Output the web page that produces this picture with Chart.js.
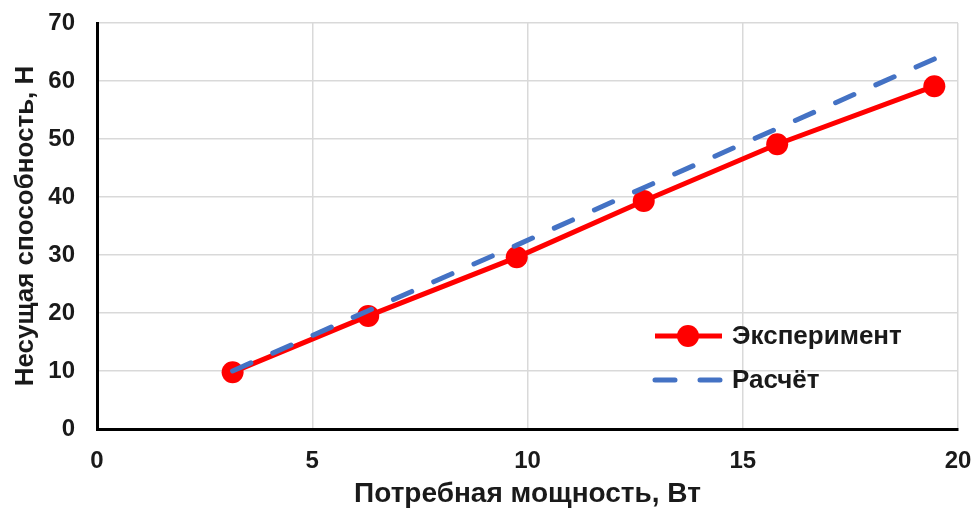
<!DOCTYPE html>
<html>
<head>
<meta charset="utf-8">
<script src="https://cdn.jsdelivr.net/npm/chart.js@4/dist/chart.umd.min.js"></script>
<style>
  html, body { margin: 0; padding: 0; background: #fff; }
  #wrap { width: 976px; height: 514px; }
</style>
</head>
<body>
<div id="wrap"><canvas id="chart" width="976" height="514"></canvas></div>
<script>
// Данные графика
const powerX = [3.15, 6.3, 9.75, 12.7, 15.8, 19.45];
const expY = [9.8, 19.5, 29.6, 39.3, 49.1, 59.1];
const calcY = [10, 20.4, 31.7, 41.6, 51.8, 63.8];
const xTicks = [0, 5, 10, 15, 20];
const yTicks = [0, 10, 20, 30, 40, 50, 60, 70];
const seriesNames = ["Эксперимент", "Расчёт"];
const axisTitles = { x: "Потребная мощность, Вт", y: "Несущая способность, Н" };

const FONT = "'Liberation Sans', Arial, sans-serif";
const TEXT = "#1a1a1a";

// Легенда рисуется вручную внутри области графика
const legendPlugin = {
  id: "innerLegend",
  afterDatasetsDraw(chart) {
    const { ctx, chartArea } = chart;
    const x0 = chartArea.right - 305;
    const rows = [chartArea.top + 313, chartArea.top + 357];
    ctx.save();
    chart.data.datasets.forEach((ds, i) => {
      const y = rows[i];
      ctx.strokeStyle = ds.borderColor;
      ctx.lineWidth = ds.borderWidth;
      ctx.lineCap = ds.borderCapStyle || "butt";
      ctx.setLineDash(ds.borderDash ? [20, 25] : []);
      ctx.beginPath();
      ctx.moveTo(x0 + 2, y);
      ctx.lineTo(x0 + 69, y);
      ctx.stroke();
      ctx.setLineDash([]);
      if (ds.pointRadius) {
        ctx.fillStyle = ds.pointBackgroundColor;
        ctx.beginPath();
        ctx.arc(x0 + 35, y, ds.pointRadius, 0, Math.PI * 2);
        ctx.fill();
      }
      ctx.fillStyle = TEXT;
      ctx.font = "bold 26px " + FONT;
      ctx.textBaseline = "middle";
      ctx.textAlign = "left";
      ctx.fillText(ds.label, x0 + 79, y + 1);
    });
    ctx.restore();
  },
};

// убираем автоматические отступы шкал под крайние подписи
const noScalePadding = (axis) => {
  axis.paddingTop = 0;
  axis.paddingBottom = 0;
  axis.paddingLeft = 0;
  axis.paddingRight = 0;
};

const ctx = document.getElementById("chart").getContext("2d");
new Chart(ctx, {
  type: "line",
  data: {
    datasets: [
      {
        label: seriesNames[0],
        data: powerX.map((x, i) => ({ x, y: expY[i] })),
        borderColor: "#ff0000",
        backgroundColor: "#ff0000",
        pointBackgroundColor: "#ff0000",
        pointBorderWidth: 0,
        pointRadius: 11,
        borderWidth: 5,
        tension: 0,
      },
      {
        label: seriesNames[1],
        data: powerX.map((x, i) => ({ x, y: calcY[i] })),
        borderColor: "#4472c4",
        backgroundColor: "#4472c4",
        borderWidth: 5,
        borderDash: [20, 24],
        borderCapStyle: "round",
        pointRadius: 0,
        tension: 0,
        order: -1,
      },
    ],
  },
  options: {
    responsive: false,
    animation: false,
    layout: { padding: { top: 23, right: 18, left: 0, bottom: 0 } },
    plugins: {
      legend: { display: false },
      tooltip: { enabled: false },
    },
    scales: {
      x: {
        type: "linear",
        min: 0,
        max: 20,
        afterBuildTicks: (axis) => { axis.ticks = xTicks.map((v) => ({ value: v })); },
        afterFit: (axis) => { axis.height = 85; noScalePadding(axis); },
        grid: { color: "#d9d9d9", lineWidth: 1.5, drawTicks: false },
        border: { display: true, color: "#000", width: 3 },
        ticks: { color: TEXT, padding: 18, font: { family: FONT, size: 24, weight: "bold" } },
        title: {
          display: true,
          text: axisTitles.x,
          color: TEXT,
          padding: { top: 0, bottom: 3 },
          font: { family: FONT, size: 28, weight: "bold" },
        },
      },
      y: {
        min: 0,
        max: 70,
        afterBuildTicks: (axis) => { axis.ticks = yTicks.map((v) => ({ value: v })); },
        afterFit: (axis) => { axis.width = 97; noScalePadding(axis); },
        grid: { color: "#d9d9d9", lineWidth: 1.5, drawTicks: false },
        border: { display: true, color: "#000", width: 3 },
        ticks: { color: TEXT, padding: 22, font: { family: FONT, size: 24, weight: "bold" } },
        title: {
          display: true,
          text: axisTitles.y,
          color: TEXT,
          padding: { top: 10, bottom: 0 },
          font: { family: FONT, size: 26, weight: "bold" },
        },
      },
    },
  },
  plugins: [legendPlugin],
});
</script>
</body>
</html>
